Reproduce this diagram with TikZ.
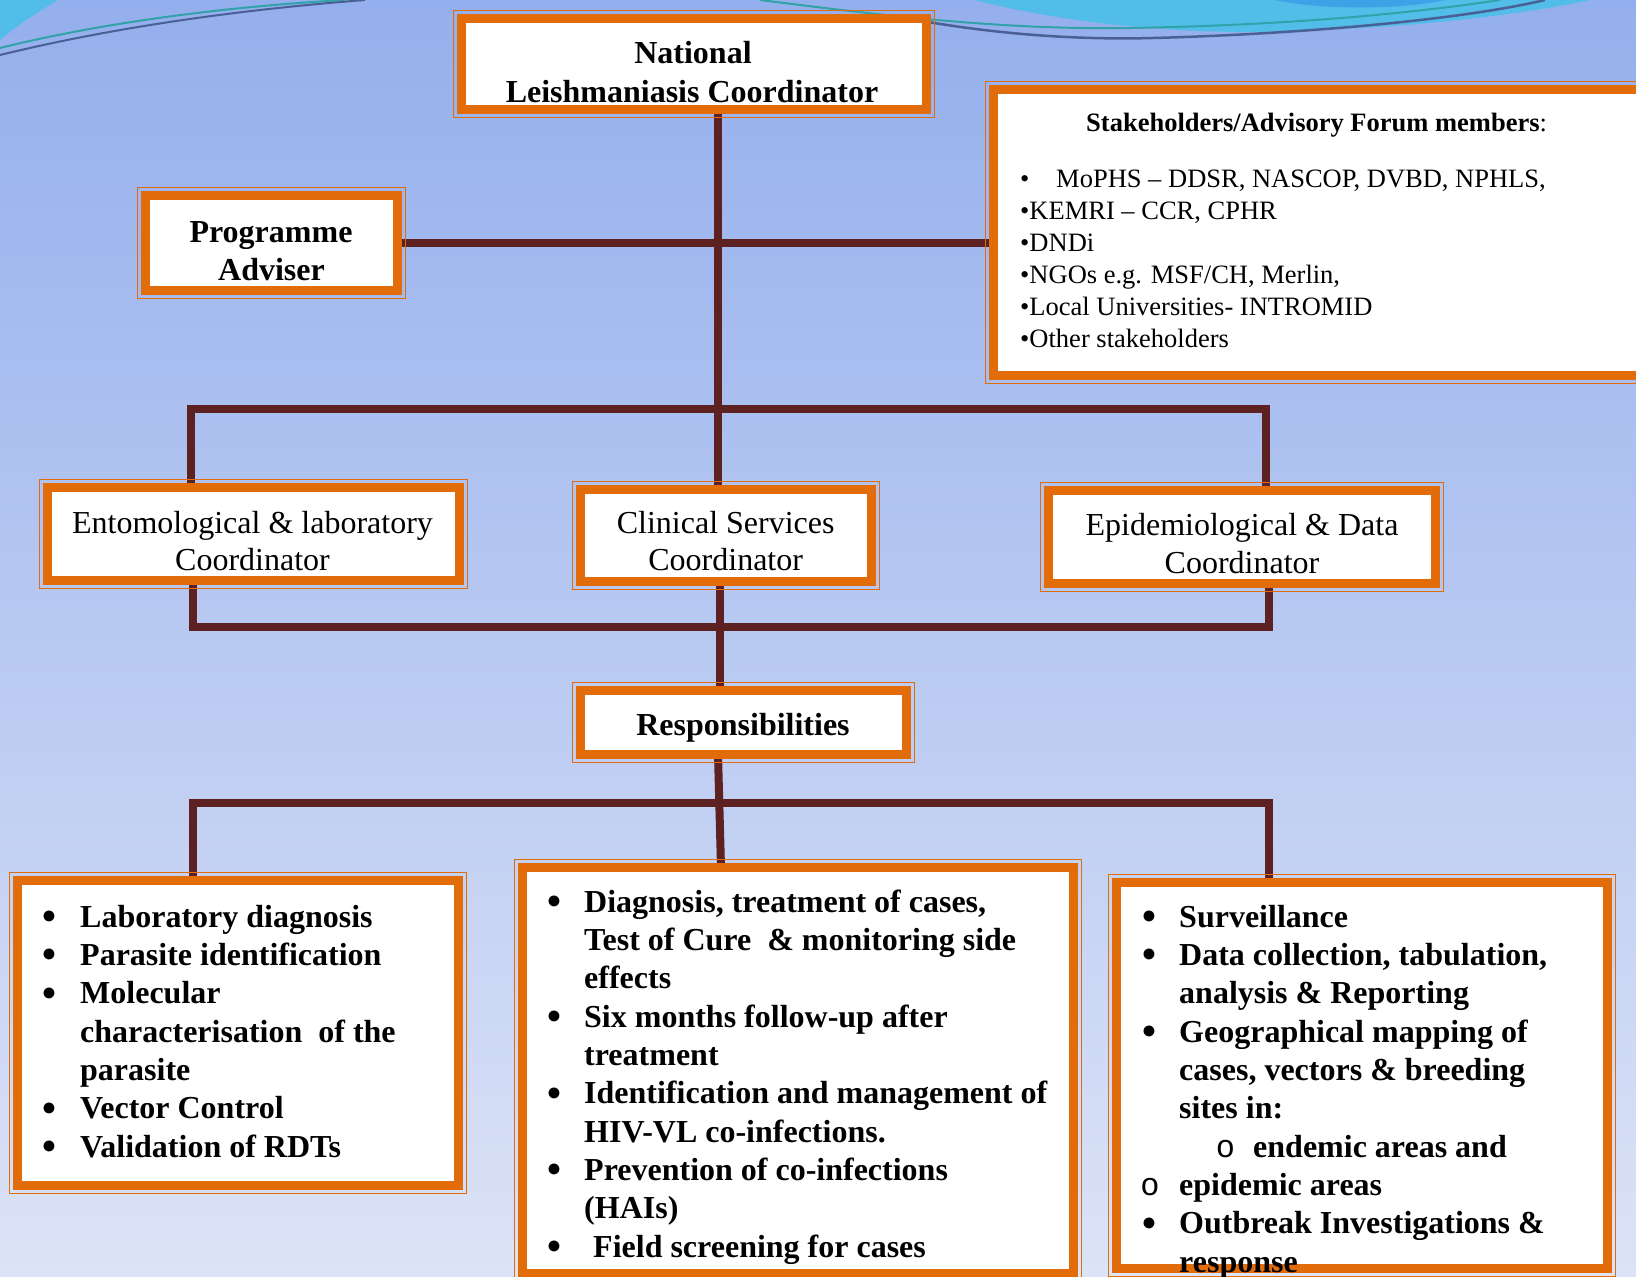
\documentclass[tikz,border=0pt]{standalone}
\usepackage{fontspec}
\setmainfont{Liberation Serif}
\newfontfamily\monofont{Liberation Mono}
\usetikzlibrary{calc}
\pgfdeclarelayer{background}
\pgfsetlayers{background,main}

\definecolor{bgtop}{HTML}{94AFED}
\definecolor{bgbot}{HTML}{DCE3F6}
\definecolor{orng}{HTML}{E36C0A}
\definecolor{maroonc}{HTML}{5E2121}
\definecolor{cyanc}{HTML}{52BDE8}
\definecolor{cyand}{HTML}{3EA3E6}
\definecolor{tealc}{HTML}{2FA3A8}
\definecolor{navyc}{HTML}{4A5F95}

\newcommand\outerline[1]{\draw[orng, line width=1.5pt] ([shift={(-8pt,8pt)}]#1.north west) rectangle ([shift={(8pt,-8pt)}]#1.south east);}
\newcommand\bigbul{\scalebox{1.42}{•}}

\tikzset{
  fbox/.style={draw=orng, line width=9pt, fill=white, rectangle, inner sep=0pt, outer sep=0pt},
  conn/.style={draw=maroonc, line width=8pt, line join=miter},
  ttl/.style={font=\fontsize{32}{38}\selectfont\bfseries, anchor=base, inner sep=0pt},
  sub/.style={font=\fontsize{32}{38}\selectfont, anchor=base, inner sep=0pt},
  itm/.style={font=\fontsize{32}{38}\selectfont\bfseries, anchor=base west, inner sep=0pt},
  bul/.style={font=\fontsize{32}{38}\selectfont, anchor=base, inner sep=0pt, yshift=-4.5pt},
  obul/.style={font=\fontsize{32}{38}\selectfont\monofont, anchor=base, inner sep=0pt},
  stk/.style={font=\fontsize{26.5}{32}\selectfont, anchor=base west, inner sep=0pt},
}

\begin{document}
\begin{tikzpicture}[x=1pt,y=-1pt]
\useasboundingbox (0,0) rectangle (1636,1277);

\begin{pgfonlayer}{background}
\shade[top color=bgtop, bottom color=bgbot] (0,0) rectangle (1636,1277);
% decorative swooshes
\fill[cyanc] (0,0) -- (58,0) .. controls (38,12) and (16,26) .. (0,40) -- cycle;
\fill[cyanc] (975,0) .. controls (1060,22) and (1160,32) .. (1250,32) .. controls (1400,30) and (1520,15) .. (1590,0) -- cycle;
\fill[cyand] (1275,0) .. controls (1320,10) and (1400,10) .. (1445,0) -- cycle;
\draw[tealc, line width=2pt] (0,48) .. controls (80,28) and (200,8) .. (345,0);
\draw[navyc, line width=2pt] (0,55) .. controls (90,33) and (210,12) .. (365,0);
\draw[tealc, line width=2pt] (760,0) .. controls (880,15) and (1000,30) .. (1130,28) .. controls (1300,25) and (1420,12) .. (1500,0);
\draw[navyc, line width=2.5pt] (890,15) .. controls (990,35) and (1080,40) .. (1153,38) .. controls (1300,34) and (1460,20) .. (1545,0);
\end{pgfonlayer}

% boxes
\node[fbox, minimum width=465pt, minimum height=91pt] (nat) at (694,64) {};
\node[fbox, minimum width=252pt, minimum height=95pt] (adv) at (271.5,243) {};
\node[fbox, minimum width=658pt, minimum height=286pt] (stk) at (1322.5,232.5) {};
\node[fbox, minimum width=412pt, minimum height=93pt] (ento) at (253.5,534) {};
\node[fbox, minimum width=291pt, minimum height=92pt] (clin) at (726,535.5) {};
\node[fbox, minimum width=387pt, minimum height=93pt] (epi) at (1242,537) {};
\node[fbox, minimum width=326pt, minimum height=64pt] (resp) at (743.5,722.5) {};
\node[fbox, minimum width=441pt, minimum height=305pt] (lbox) at (238,1033) {};
\node[fbox, minimum width=551pt, minimum height=406pt] (mbox) at (798,1070.5) {};
\node[fbox, minimum width=491pt, minimum height=386pt] (rbox) at (1362,1075.5) {};
\outerline{nat}\outerline{adv}\outerline{stk}\outerline{ento}\outerline{clin}
\outerline{epi}\outerline{resp}\outerline{lbox}\outerline{mbox}\outerline{rbox}

% connector junctions
\coordinate (tx) at (718,409);
\coordinate (b1L) at (191,409);
\coordinate (b1R) at (1266,409);
\coordinate (b2L) at (193,627);
\coordinate (b2M) at (720,627);
\coordinate (b2R) at (1269,627);
\coordinate (b3L) at (193,803);
\coordinate (b3R) at (1269,803);

\begin{pgfonlayer}{background}
\draw[conn] (nat.south -| tx) -- (clin.north -| tx);
\draw[conn] (adv.east) -- (adv.east -| stk.west);
\draw[conn] (b1L |- ento.north) -- (b1L) -- (b1R) -- (b1R |- epi.north);
\draw[conn] (b2L |- ento.south) -- (b2L) -- (b2R) -- (b2R |- epi.south);
\draw[conn] (clin.south -| b2M) -- (resp.north -| b2M);
\draw[conn] (b3L |- lbox.north) -- (b3L) -- (b3R) -- (b3R |- rbox.north);
\draw[conn] ([xshift=-25.5pt]resp.south) -- ([xshift=-77pt]mbox.north);
\end{pgfonlayer}

% titles
\node[ttl] (nat1) at (693,63) {National};
\node[ttl] (nat2) at (692,102) {Leishmaniasis Coordinator};
\node[ttl] (adv1) at (271,242) {Programme};
\node[ttl] (adv2) at (271.5,280) {Adviser};
\node[sub] (ento1) at (252.5,533) {Entomological \& laboratory};
\node[sub] (ento2) at (252.5,570) {Coordinator};
\node[sub] (clin1) at (725.7,533) {Clinical Services};
\node[sub] (clin2) at (725.7,570) {Coordinator};
\node[sub] (epi1) at (1242,535) {Epidemiological \& Data};
\node[sub] (epi2) at (1242,573) {Coordinator};
\node[ttl] (resp1) at (743,735) {Responsibilities};

% stakeholders
\node[stk] (s0) at (1086,131) {\textbf{Stakeholders/Advisory Forum members}:};
\node[stk] (s1b) at (1020,187.5) {•};
\node[stk] (s1) at (1056,187.5) {MoPHS – DDSR, NASCOP, DVBD, NPHLS,};
\node[stk] (s2) at (1020,219.5) {•KEMRI – CCR, CPHR};
\node[stk] (s3) at (1020,251.3) {•DNDi};
\node[stk] (s4) at (1020,283.2) {•NGOs e.g. MSF/CH, Merlin,};
\node[stk] (s5) at (1020,315) {•Local Universities- INTROMID};
\node[stk] (s6) at (1020,347) {•Other stakeholders};

% left list
\node[bul] (l1b) at (49,927) {\bigbul};
\node[itm] (l1) at (80,927) {Laboratory diagnosis};
\node[bul] (l2b) at (49,965.3) {\bigbul};
\node[itm] (l2) at (80,965.3) {Parasite identification};
\node[bul] (l3b) at (49,1003.7) {\bigbul};
\node[itm] (l3) at (80,1003.7) {Molecular};
\node[itm] (l4) at (80,1042) {characterisation~~of the};
\node[itm] (l5) at (80,1080.3) {parasite};
\node[bul] (l6b) at (49,1118.7) {\bigbul};
\node[itm] (l6) at (80,1118.7) {Vector Control};
\node[bul] (l7b) at (49,1157) {\bigbul};
\node[itm] (l7) at (80,1157) {Validation of RDTs};

% middle list
\node[bul] (m1b) at (554,912) {\bigbul};
\node[itm] (m1) at (584,912) {Diagnosis, treatment of cases,};
\node[itm] (m2) at (584,950.3) {Test of Cure~~\& monitoring side};
\node[itm] (m3) at (584,988.7) {effects};
\node[bul] (m4b) at (554,1027) {\bigbul};
\node[itm] (m4) at (584,1027) {Six months follow-up after};
\node[itm] (m5) at (584,1065.3) {treatment};
\node[bul] (m6b) at (554,1103.7) {\bigbul};
\node[itm] (m6) at (584,1103.7) {Identification and management of};
\node[itm] (m7) at (584,1142) {HIV-VL co-infections.};
\node[bul] (m8b) at (554,1180.3) {\bigbul};
\node[itm] (m8) at (584,1180.3) {Prevention of co-infections};
\node[itm] (m9) at (584,1218.7) {(HAIs)};
\node[bul] (m10b) at (554,1257) {\bigbul};
\node[itm] (m10) at (593,1257) {Field screening for cases};

% right list
\node[bul] (r1b) at (1149,927) {\bigbul};
\node[itm] (r1) at (1179,927) {Surveillance};
\node[bul] (r2b) at (1149,965.3) {\bigbul};
\node[itm] (r2) at (1179,965.3) {Data collection, tabulation,};
\node[itm] (r3) at (1179,1003.7) {analysis \& Reporting};
\node[bul] (r4b) at (1149,1042) {\bigbul};
\node[itm] (r4) at (1179,1042) {Geographical mapping of};
\node[itm] (r5) at (1179,1080.3) {cases, vectors \& breeding};
\node[itm] (r6) at (1179,1118.7) {sites in:};
\node[obul] (r7b) at (1225.5,1157) {o};
\node[itm] (r7) at (1253,1157) {endemic areas and};
\node[obul] (r8b) at (1150,1195.3) {o};
\node[itm] (r8) at (1179,1195.3) {epidemic areas};
\node[bul] (r9b) at (1149,1233.7) {\bigbul};
\node[itm] (r9) at (1179,1233.7) {Outbreak Investigations \&};
\node[itm] (r10) at (1179,1272) {response};
\end{tikzpicture}
\end{document}
